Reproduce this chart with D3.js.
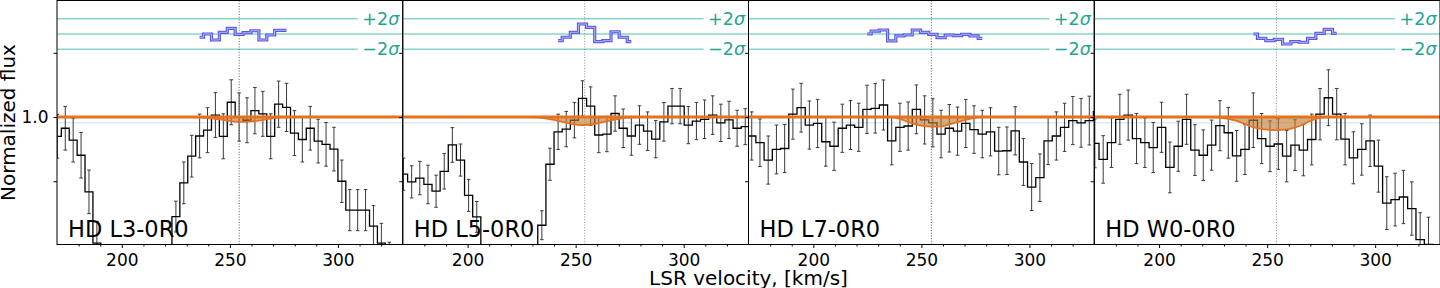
<!DOCTYPE html>
<html>
<head>
<meta charset="utf-8">
<script src="https://cdn.jsdelivr.net/npm/d3@7"></script>
<style>
  body { margin: 0; background: #fff; }
  svg { display: block; }
  text { font-family: "DejaVu Sans", sans-serif; }
</style>
</head>
<body>
<div id="chart"></div>
<script>
(function () {
  'use strict';

  // --- data ---
  const panelLabels = ['HD L3-0R0', 'HD L5-0R0', 'HD L7-0R0', 'HD W0-0R0'];

  // left edge (km/s) of the first bin and the bin width of each spectrum
  const binStart = [168.34, 168.48, 165.78, 168.34];
  const binWidth = [3.657, 3.765, 3.81, 3.86];

  const flux1 = [0.94, 0.965, 0.928, 0.881, 0.767, 0.607, 0.45, 0.45, 0.45, 0.45, 0.45, 0.45, 0.45, 0.45,
    0.55, 0.69, 0.795, 0.878, 0.941, 0.959, 1.006, 0.94, 1.046, 1.00, 0.99, 1.02, 1.01, 0.94, 1.04, 1.03,
    0.95, 0.93, 0.965, 0.925, 0.915, 0.90, 0.80, 0.71, 0.71, 0.71, 0.66, 0.607, 0.55, 0.50, 0.45];
  const err1 = [0.068, 0.068, 0.068, 0.071, 0.068, 0.068, 0.065, 0.065, 0.065, 0.065, 0.065, 0.065, 0.065, 0.065,
    0.05, 0.048, 0.065, 0.065, 0.068, 0.07, 0.07, 0.07, 0.07, 0.075, 0.07, 0.072, 0.07, 0.07, 0.072, 0.075,
    0.07, 0.07, 0.068, 0.068, 0.068, 0.068, 0.066, 0.064, 0.064, 0.064, 0.064, 0.062, 0.06, 0.06, 0.06];

  const flux2 = [0.822, 0.798, 0.810, 0.790, 0.769, 0.831, 0.913, 0.866, 0.756, 0.689, 0.45, 0.45, 0.45, 0.45,
    0.45, 0.45, 0.45, 0.663, 0.853, 0.954, 0.9625, 0.99, 1.058, 1.034, 0.944, 0.947, 1.011, 0.965, 0.941,
    0.975, 0.956, 0.931, 0.985, 1.034, 1.034, 0.975, 0.9875, 0.993, 1.006, 0.982, 0.991, 0.965, 0.97, 0.97];
  const err2 = [0.05, 0.05, 0.052, 0.06, 0.05, 0.055, 0.054, 0.05, 0.05, 0.048, 0.045, 0.045, 0.045, 0.045,
    0.045, 0.045, 0.045, 0.045, 0.05, 0.055, 0.055, 0.055, 0.055, 0.06, 0.055, 0.055, 0.055, 0.06, 0.06,
    0.06, 0.06, 0.058, 0.06, 0.055, 0.055, 0.058, 0.058, 0.06, 0.06, 0.058, 0.058, 0.056, 0.056, 0.056];

  const flux3 = [1.02, 0.941, 0.920, 0.866, 0.899, 0.902, 1.009, 1.029, 0.975, 0.980, 0.923, 0.909, 0.965,
    0.975, 0.968, 1.024, 1.027, 1.0375, 0.926, 0.968, 0.972, 1.024, 0.991, 0.982, 0.947, 0.965, 0.956, 0.980,
    0.961, 0.947, 0.954, 0.894, 0.895, 0.957, 0.860, 0.782, 0.811, 0.926, 0.941, 0.968, 0.989, 0.982, 0.989, 1.017];
  const err3 = [0.075, 0.075, 0.074, 0.075, 0.076, 0.075, 0.078, 0.076, 0.075, 0.075, 0.076, 0.075, 0.075,
    0.076, 0.075, 0.075, 0.077, 0.078, 0.075, 0.075, 0.075, 0.076, 0.075, 0.075, 0.074, 0.074, 0.075, 0.075,
    0.074, 0.074, 0.075, 0.074, 0.074, 0.075, 0.073, 0.073, 0.074, 0.074, 0.075, 0.075, 0.075, 0.076, 0.076, 0.076];

  const flux4 = [0.918, 0.868, 0.920, 0.993, 1.006, 0.933, 0.920, 0.905, 0.968, 0.843, 0.909, 0.993, 0.897,
    0.881, 0.9125, 0.973, 0.951, 0.879, 0.899, 0.99, 0.933, 0.909, 0.916, 0.878, 0.9125, 0.897, 0.930, 1.009,
    1.060, 1.009, 0.931, 0.873, 0.899, 0.926, 0.847, 0.732, 0.743, 0.751, 0.715, 0.618, 0.603, 0.50, 0.45];
  const err4 = [0.076, 0.074, 0.077, 0.078, 0.078, 0.078, 0.077, 0.078, 0.078, 0.079, 0.078, 0.078, 0.079,
    0.079, 0.078, 0.078, 0.079, 0.079, 0.078, 0.085, 0.078, 0.079, 0.079, 0.08, 0.079, 0.08, 0.079, 0.08,
    0.087, 0.08, 0.08, 0.081, 0.08, 0.08, 0.081, 0.082, 0.082, 0.083, 0.083, 0.084, 0.085, 0.085, 0.085];

  // residuals in sigma units, starting at bin index residStart
  const residStart = [18, 19, 15, 19];
  const resid1 = [-0.43, 0, -0.79, 0.22, 0.75, -0.04, 0.17, 0.43, -0.79, -0.13, 0.49, 0.49];
  const resid2 = [-0.88, -0.43, 0.22, 1.32, 0.88, -1.01, -0.88, 0.3, -0.43, -1.01];
  const resid3 = [0, 0.39, 0.53, -0.92, -0.26, -0.13, 0.53, 0.22, -0.04, -0.48, -0.13, -0.22, -0.04, -0.26, -0.57];
  const resid4 = [0, -0.57, -0.88, -0.70, -1.32, -1.01, -1.09, -0.57, 0.09, 0.62, 0.09];

  // HD absorption model [velocity, normalized flux]
  const model1 = [[170, 1], [232, 1], [240, 0.997], [246, 0.992], [252, 0.986], [256, 0.985], [262, 0.988],
    [268, 0.994], [274, 0.999], [280, 1], [330, 1]];
  const model2 = [[170, 1], [228, 1], [236, 0.996], [242, 0.988], [248, 0.979], [252, 0.975], [256, 0.976],
    [262, 0.983], [268, 0.992], [274, 0.998], [280, 1], [330, 1]];
  const model3 = [[170, 1], [236, 1], [240, 0.994], [245, 0.982], [250, 0.973], [255, 0.970], [260, 0.972],
    [265, 0.981], [270, 0.990], [275, 0.998], [279, 1], [330, 1]];
  const model4 = [[170, 1], [224, 1], [230, 0.997], [236, 0.988], [242, 0.972], [248, 0.962], [254, 0.959],
    [260, 0.962], [265, 0.972], [270, 0.988], [275, 0.998], [279, 1], [330, 1]];

  const markerVel = [254.3, 254.2, 254.6, 254.3];
  const xTicks = [200, 250, 300];
  const xMinorTicks = [180, 190, 210, 220, 230, 240, 260, 270, 280, 290, 310, 320];
  const yTicks = [0.8, 1.0, 1.2];
  const yDomain = [0.603, 1.3645];
  const bandCenter = 1.2586;
  const bandSigma = 0.0236;
  const refLevel = 0.982;

  const panels = [
    { flux: flux1, err: err1, resid: resid1, model: model1 },
    { flux: flux2, err: err2, resid: resid2, model: model2 },
    { flux: flux3, err: err3, resid: resid3, model: model3 },
    { flux: flux4, err: err4, resid: resid4, model: model4 }
  ];

  // --- layout / style ---
  const W = 1440, H = 288;
  const LEFT = 57, TOP = 0.5, BOTTOM = 244.5;
  const PANEL_W = (W - LEFT) / 4;
  const COLORS = {
    band: '#3bb8a8',
    bandText: '#22a592',
    hist: '#000',
    errbar: '#3a3a3a',
    cont: '#e8711e',
    fill: 'rgba(190,122,48,0.62)',
    resid: '#5a5ae6',
    residInner: '#b4b4f4',
    ref: '#b8dcef',
    marker: ['#3d6b4c', '#8a8a8a', '#2f7a4d', '#8a8a8a']
  };

  const svg = d3.select('#chart').append('svg')
    .attr('width', W)
    .attr('height', H);

  const y = d3.scaleLinear().domain(yDomain).range([BOTTOM, TOP - 0.5]);
  const ySig = d3.scaleLinear()
    .domain([-2, 2])
    .range([y(bandCenter - 2 * bandSigma), y(bandCenter + 2 * bandSigma)]);

  panels.forEach((p, i) => {
    const x0 = LEFT + i * PANEL_W;
    const x = d3.scaleLinear().domain([170, 330]).range([0, PANEL_W]);
    const g = svg.append('g').attr('transform', `translate(${x0},0)`);

    const clipId = 'clip' + i;
    svg.append('clipPath').attr('id', clipId)
      .append('rect')
      .attr('x', 0).attr('y', TOP)
      .attr('width', PANEL_W).attr('height', BOTTOM - TOP);

    const body = g.append('g').attr('clip-path', `url(#${clipId})`);

    // sigma band lines
    [2, 0, -2].forEach((s) => {
      body.append('line')
        .attr('x1', 0).attr('x2', PANEL_W)
        .attr('y1', ySig(s)).attr('y2', ySig(s))
        .attr('stroke', COLORS.band)
        .attr('stroke-width', 0.9);
    });

    // sigma labels with white box
    [[2, '+2'], [-2, '\u22122']].forEach(([s, t]) => {
      const lbl = g.append('text')
        .attr('x', PANEL_W - 3.5)
        .attr('y', ySig(s) + 6.2)
        .attr('text-anchor', 'end')
        .attr('font-size', 17.5)
        .attr('fill', COLORS.bandText);
      lbl.append('tspan').text(t);
      lbl.append('tspan').attr('font-style', 'italic').text('\u03c3');
      const bb = lbl.node().getBBox();
      g.insert('rect', () => lbl.node())
        .attr('x', bb.x - 4.5).attr('y', ySig(s) - 7)
        .attr('width', bb.width + 8).attr('height', 14)
        .attr('fill', '#fff');
    });

    // velocity marker
    body.append('line')
      .attr('x1', x(markerVel[i])).attr('x2', x(markerVel[i]))
      .attr('y1', TOP).attr('y2', BOTTOM)
      .attr('stroke', COLORS.marker[i])
      .attr('stroke-width', 1)
      .attr('stroke-dasharray', '1,1.7');

    // reference level
    body.append('line')
      .attr('x1', 0).attr('x2', PANEL_W)
      .attr('y1', y(refLevel)).attr('y2', y(refLevel))
      .attr('stroke', COLORS.ref)
      .attr('stroke-width', 0.8);

    const centre = (k) => binStart[i] + (k + 0.5) * binWidth[i];
    const pts = p.flux.map((f, k) => ({ v: centre(k), f: f, e: p.err[k] }));

    // error bars
    const eb = body.append('g')
      .attr('stroke', COLORS.errbar)
      .attr('stroke-width', 1);
    pts.forEach((d) => {
      const cx = x(d.v);
      const y1 = y(d.f - d.e), y2 = y(d.f + d.e);
      eb.append('line').attr('x1', cx).attr('x2', cx).attr('y1', y1).attr('y2', y2);
      eb.append('line').attr('x1', cx - 1.8).attr('x2', cx + 1.8).attr('y1', y1).attr('y2', y1);
      eb.append('line').attr('x1', cx - 1.8).attr('x2', cx + 1.8).attr('y1', y2).attr('y2', y2);
    });

    // histogram
    const step = d3.line()
      .x((d) => x(d.v))
      .y((d) => y(d.f))
      .curve(d3.curveStep);
    body.append('path')
      .datum(pts)
      .attr('d', step)
      .attr('fill', 'none')
      .attr('stroke', COLORS.hist)
      .attr('stroke-width', 1.3);

    // absorption fill
    const area = d3.area()
      .x((d) => x(d[0]))
      .y0(y(1))
      .y1((d) => y(d[1]))
      .curve(d3.curveMonotoneX);
    body.append('path')
      .datum(p.model)
      .attr('d', area)
      .attr('fill', COLORS.fill);

    // continuum
    body.append('line')
      .attr('x1', 0).attr('x2', PANEL_W)
      .attr('y1', y(1)).attr('y2', y(1))
      .attr('stroke', COLORS.cont)
      .attr('stroke-width', 3);

    // model line
    body.append('path')
      .datum(p.model)
      .attr('d', d3.line().x((d) => x(d[0])).y((d) => y(d[1])).curve(d3.curveMonotoneX))
      .attr('fill', 'none')
      .attr('stroke', COLORS.cont)
      .attr('stroke-width', 1.8);

    // residuals
    const rPts = p.resid.map((r, k) => ({ v: centre(residStart[i] + k), r: r }));
    const rLine = d3.line()
      .x((d) => x(d.v))
      .y((d) => ySig(d.r))
      .curve(d3.curveStep);
    body.append('path')
      .datum(rPts)
      .attr('d', rLine)
      .attr('fill', 'none')
      .attr('stroke', COLORS.resid)
      .attr('stroke-width', 3.2);
    body.append('path')
      .datum(rPts)
      .attr('d', rLine)
      .attr('fill', 'none')
      .attr('stroke', COLORS.residInner)
      .attr('stroke-width', 1);

    // panel label
    g.append('text')
      .attr('x', 11)
      .attr('y', 237)
      .attr('font-size', 22.5)
      .attr('fill', '#000')
      .text(panelLabels[i]);

    // axes
    const xAxis = d3.axisBottom(x).tickValues(xTicks).tickSize(3.5).tickSizeOuter(0).tickPadding(6)
      .tickFormat(d3.format('d'));
    const xa = g.append('g').attr('transform', `translate(0,${BOTTOM})`).call(xAxis);
    xa.select('.domain').remove();
    xa.selectAll('text').attr('font-size', 17).attr('font-family', '"DejaVu Sans", sans-serif').attr('fill', '#000');

    const xMinor = d3.axisBottom(x).tickValues(xMinorTicks).tickSize(2).tickFormat('');
    const xm = g.append('g').attr('transform', `translate(0,${BOTTOM})`).call(xMinor);
    xm.select('.domain').remove();

    const yAxis = d3.axisLeft(y).tickValues(yTicks).tickSize(3.5).tickSizeOuter(0).tickPadding(5)
      .tickFormat((d) => (i === 0 && d === 1 ? '1.0' : ''));
    const ya = g.append('g').call(yAxis);
    ya.select('.domain').remove();
    ya.selectAll('text').attr('font-size', 17).attr('font-family', '"DejaVu Sans", sans-serif').attr('fill', '#000');

    // frame
    g.append('rect')
      .attr('x', 0).attr('y', TOP)
      .attr('width', PANEL_W).attr('height', BOTTOM - TOP)
      .attr('fill', 'none')
      .attr('stroke', '#000')
      .attr('stroke-width', 1);
  });

  // axis titles
  svg.append('text')
    .attr('transform', `translate(14.5,${(TOP + BOTTOM) / 2}) rotate(-90)`)
    .attr('text-anchor', 'middle')
    .attr('font-size', 20)
    .text('Normalized flux');

  svg.append('text')
    .attr('x', LEFT + 2 * PANEL_W)
    .attr('y', 285)
    .attr('text-anchor', 'middle')
    .attr('font-size', 20)
    .text('LSR velocity, [km/s]');
})();
</script>
</body>
</html>
